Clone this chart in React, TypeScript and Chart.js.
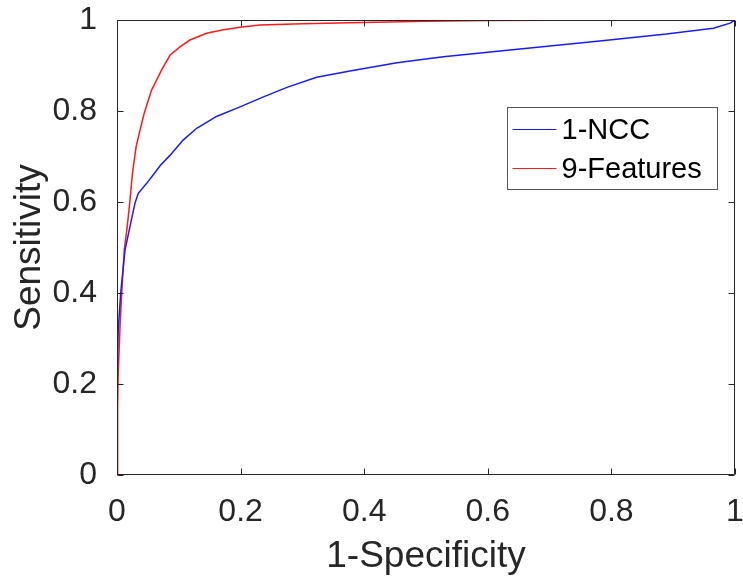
import { useEffect, useRef } from "react";
import { Chart, registerables } from "chart.js";

Chart.register(...registerables);

// ROC curve data (false positive rate vs true positive rate)
const fprBlue = [0, 0, 0.0005, 0.002, 0.006, 0.013, 0.021, 0.029, 0.0345, 0.048, 0.06, 0.07, 0.086, 0.107, 0.129, 0.161, 0.199, 0.237, 0.275, 0.323, 0.377, 0.453, 0.528, 0.636, 0.781, 0.889, 0.965, 0.992, 1];
const tprBlue = [0, 0.16, 0.216, 0.319, 0.4, 0.495, 0.546, 0.597, 0.619, 0.641, 0.662, 0.68, 0.703, 0.736, 0.762, 0.788, 0.809, 0.831, 0.852, 0.874, 0.888, 0.906, 0.919, 0.934, 0.954, 0.969, 0.982, 0.993, 1];

const fprRed = [0, 0.001, 0.002, 0.005, 0.0076, 0.0118, 0.016, 0.02, 0.025, 0.031, 0.036, 0.044, 0.056, 0.072, 0.086, 0.102, 0.118, 0.145, 0.17, 0.199, 0.231, 0.3, 0.377, 0.5, 0.6, 0.8, 1];
const tprRed = [0, 0.15, 0.224, 0.33, 0.4, 0.495, 0.54, 0.59, 0.663, 0.722, 0.751, 0.795, 0.846, 0.89, 0.923, 0.941, 0.956, 0.971, 0.978, 0.984, 0.989, 0.992, 0.994, 0.997, 0.999, 1, 1];

const seriesLabels = ["1-NCC", "9-Features"];
const seriesColors = ["#1a1aff", "#ff1a1a"];
const xTicks = [0, 0.2, 0.4, 0.6, 0.8, 1];
const yTicks = [0, 0.2, 0.4, 0.6, 0.8, 1];
const xTitle = "1-Specificity";
const yTitle = "Sensitivity";

const AXIS = "#262626";
const FONT = "'Liberation Sans', Arial, Helvetica, sans-serif";

const boxPlugin = {
  id: "matlabBox",
  afterDatasetsDraw(chart: any) {
    const { ctx, chartArea: a, scales } = chart;
    ctx.save();
    ctx.strokeStyle = AXIS;
    ctx.lineWidth = 1;
    const L = Math.round(a.left) + 0.5;
    const R = Math.round(a.right) - 0.5;
    const T = Math.round(a.top) + 0.5;
    const B = Math.round(a.bottom) - 0.5;
    ctx.beginPath();
    ctx.rect(L, T, R - L, B - T);
    const tl = 6;
    for (const t of scales.x.ticks) {
      const px = Math.round(scales.x.getPixelForValue(t.value)) + 0.5;
      ctx.moveTo(px, B);
      ctx.lineTo(px, B - tl);
      ctx.moveTo(px, T);
      ctx.lineTo(px, T + tl);
    }
    for (const t of scales.y.ticks) {
      const py = Math.round(scales.y.getPixelForValue(t.value)) + 0.5;
      ctx.moveTo(L, py);
      ctx.lineTo(L + tl, py);
      ctx.moveTo(R, py);
      ctx.lineTo(R - tl, py);
    }
    ctx.stroke();
    ctx.restore();
  },
  afterDraw(chart: any) {
    const { ctx, chartArea: a } = chart;
    const bx = Math.round(a.right - 228) + 0.5;
    const by = Math.round(a.top + 87) + 0.5;
    const bw = 210;
    const bh = 82;
    ctx.save();
    ctx.fillStyle = "#ffffff";
    ctx.fillRect(bx, by, bw, bh);
    ctx.strokeStyle = "#555555";
    ctx.lineWidth = 1;
    ctx.strokeRect(bx, by, bw, bh);
    ctx.font = `29px ${FONT}`;
    ctx.textBaseline = "middle";
    ctx.textAlign = "left";
    chart.data.datasets.forEach((ds: any, i: number) => {
      const y = by + 22 + i * 39;
      ctx.strokeStyle = ds.borderColor;
      ctx.lineWidth = 1.2;
      ctx.beginPath();
      ctx.moveTo(bx + 5, y);
      ctx.lineTo(bx + 49, y);
      ctx.stroke();
      ctx.fillStyle = "#000000";
      ctx.fillText(ds.label, bx + 54, y + 1);
    });
    ctx.restore();
  },
};

export default function App() {
  const ref = useRef<HTMLCanvasElement>(null);
  useEffect(() => {
    if (!ref.current) return;
    const toPts = (xs: number[], ys: number[]) => xs.map((x, i) => ({ x, y: ys[i] }));
    const chart = new Chart(ref.current, {
      type: "line",
      data: {
        datasets: [
          {
            label: seriesLabels[0],
            data: toPts(fprBlue, tprBlue),
            borderColor: seriesColors[0],
            borderWidth: 1.5,
            pointRadius: 0,
            tension: 0,
            fill: false,
          },
          {
            label: seriesLabels[1],
            data: toPts(fprRed, tprRed),
            borderColor: seriesColors[1],
            borderWidth: 1.5,
            pointRadius: 0,
            tension: 0,
            fill: false,
          },
        ],
      },
      options: {
        responsive: false,
        animation: false,
        devicePixelRatio: 1,
        layout: { padding: { left: 0, top: 20, right: 8, bottom: 0 } },
        plugins: { legend: { display: false }, tooltip: { enabled: false } },
        scales: {
          x: {
            type: "linear",
            min: 0,
            max: 1,
            grid: { display: false },
            border: { display: false },
            afterBuildTicks: (s: any) => {
              s.ticks = xTicks.map((v) => ({ value: v }));
            },
            afterFit: (s: any) => {
              s.height = 110;
              s.paddingLeft = 0;
              s.paddingRight = 0;
            },
            ticks: {
              color: AXIS,
              font: { family: FONT, size: 32 },
              padding: 10,
              maxRotation: 0,
              autoSkip: false,
              callback: (v: any) => String(v),
            },
            title: {
              display: true,
              text: xTitle,
              color: AXIS,
              font: { family: FONT, size: 37 },
              padding: { top: 0, bottom: 6 },
            },
          },
          y: {
            type: "linear",
            min: 0,
            max: 1,
            grid: { display: false },
            border: { display: false },
            afterBuildTicks: (s: any) => {
              s.ticks = yTicks.map((v) => ({ value: v }));
            },
            afterFit: (s: any) => {
              s.width = 117;
              s.paddingTop = 0;
              s.paddingBottom = 0;
            },
            ticks: {
              color: AXIS,
              font: { family: FONT, size: 32 },
              padding: 12,
              autoSkip: false,
              callback: (v: any) => String(v),
            },
            title: {
              display: true,
              text: yTitle,
              color: AXIS,
              font: { family: FONT, size: 37 },
              padding: { top: 8, bottom: 0 },
            },
          },
        },
      },
      plugins: [boxPlugin],
    });
    return () => chart.destroy();
  }, []);
  return (
    <div style={{ position: "absolute", left: 0, top: 0, width: 743, height: 585, background: "#fff" }}>
      <canvas ref={ref} width={743} height={585} style={{ display: "block" }} />
    </div>
  );
}
